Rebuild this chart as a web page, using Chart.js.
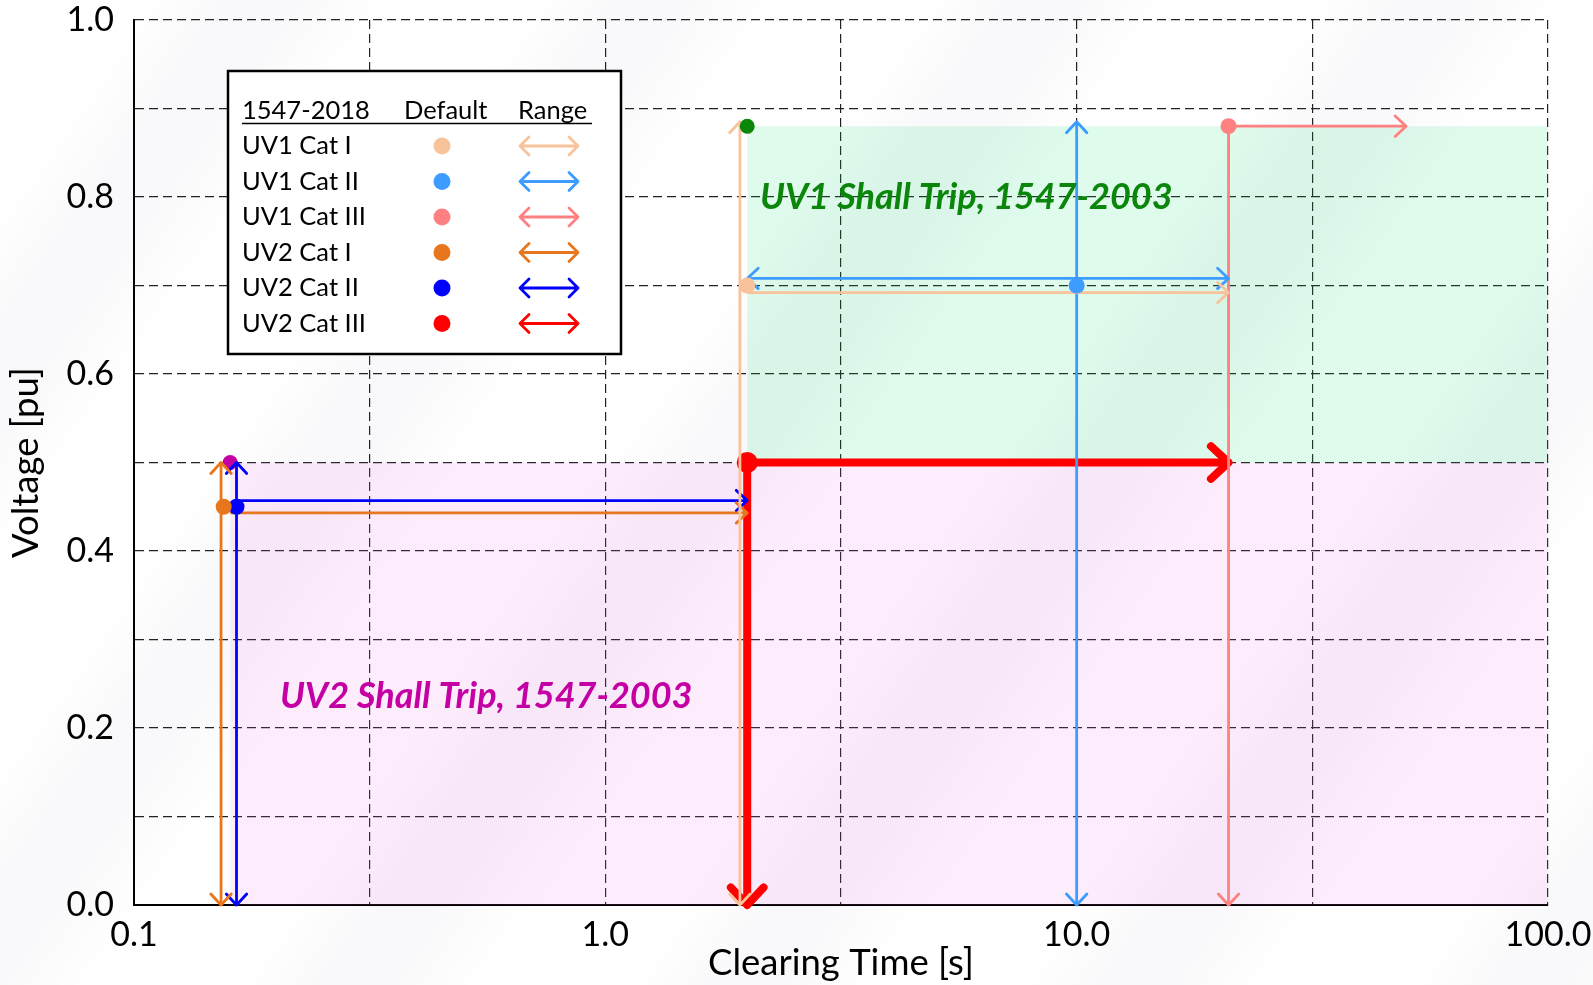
<!DOCTYPE html>
<html>
<head>
<meta charset="utf-8">
<script src="https://cdn.jsdelivr.net/npm/chart.js@4.4.1/dist/chart.umd.min.js"></script>
<style>
  html, body { margin: 0; padding: 0; }
  body {
    background: repeating-linear-gradient(125deg, #ffffff 0px, #ffffff 120px, #f9f9fb 190px, #f9f9fb 240px, #ffffff 320px);
  }
  canvas { display: block; }
</style>
</head>
<body>
<canvas id="chart" width="1593" height="985"></canvas>
<script>
// axis ticks
const xTicks = [0.1, 0.316, 1, 3.16, 10, 31.6, 100];
const xTickLabels = ["0.1", "", "1.0", "", "10.0", "", "100.0"];
const yTicks = [0, 0.1, 0.2, 0.3, 0.4, 0.5, 0.6, 0.7, 0.8, 0.9, 1.0];
const yTickLabels = ["0.0", "", "0.2", "", "0.4", "", "0.6", "", "0.8", "", "1.0"];

// 1547-2018 settings
const seriesNames = ["UV1 Cat I", "UV1 Cat II", "UV1 Cat III", "UV2 Cat I", "UV2 Cat II", "UV2 Cat III"];
const seriesColors = ["#f8c39a", "#3c9cff", "#ff8080", "#e8761c", "#0000ff", "#ff0000"];
const defaultTime = [2.0, 10.0, 21.0, 0.155, 0.165, 2.0];
const defaultVoltage = [0.70, 0.70, 0.88, 0.45, 0.45, 0.50];

// range arrows (horizontal = time range, vertical = voltage range)
const timeRangeFrom = [2.0, 2.0, 21.0, 0.16, 0.165, 2.0];
const timeRangeTo = [21.0, 21.0, 50.0, 2.0, 2.0, 21.0];
const timeRangeVoltage = [0.692, 0.708, 0.88, 0.443, 0.457, 0.50];
const timeRangeHeads = [["end"], ["start", "end"], ["end"], ["end"], ["end"], ["end"]];
const voltRangeFrom = [0.0, 0.0, 0.88, 0.0, 0.0, 0.50];
const voltRangeTo = [0.885, 0.885, 0.0, 0.50, 0.50, 0.0];
const voltRangeTime = [1.93, 10.0, 21.0, 0.153, 0.165, 2.0];
const voltRangeHeads = [["start", "end"], ["start", "end"], ["end"], ["start", "end"], ["start", "end"], ["end"]];

// 1547-2003 shall trip
const tripNames = ["UV1 Shall Trip, 1547-2003", "UV2 Shall Trip, 1547-2003"];
const tripTime = [2.0, 0.16];
const tripVoltage = [0.88, 0.50];
const tripFloor = [0.50, 0.0];
const tripColors = ["#0a860a", "#c400a4"];
const tripFills = ["rgba(0,225,110,0.13)", "rgba(240,110,230,0.12)"];
const tripLabelTime = [2.13, 0.204];
const tripLabelVoltage = [0.80, 0.236];
const xMax = 100;

const FONT = "Lato";

const datasets = [];

// shaded regions
tripNames.forEach((name, i) => {
  datasets.push({
    type: "line",
    data: [{ x: tripTime[i], y: tripVoltage[i] }, { x: xMax, y: tripVoltage[i] }],
    borderWidth: 0,
    pointRadius: 0,
    backgroundColor: tripFills[i],
    fill: { value: tripFloor[i] },
    order: 100,
  });
});

// range arrows
seriesNames.forEach((name, i) => {
  const thick = i === 5;
  const common = {
    type: "line",
    borderColor: seriesColors[i],
    borderWidth: thick ? 8 : 2.8,
    pointRadius: 0,
    fill: false,
    clip: false,
    headSize: thick ? 24 : 15,
    order: thick ? 60 : 30,
  };
  datasets.push(Object.assign({}, common, {
    data: [{ x: timeRangeFrom[i], y: timeRangeVoltage[i] }, { x: timeRangeTo[i], y: timeRangeVoltage[i] }],
    heads: timeRangeHeads[i],
  }));
  datasets.push(Object.assign({}, common, {
    data: [{ x: voltRangeTime[i], y: voltRangeFrom[i] }, { x: voltRangeTime[i], y: voltRangeTo[i] }],
    heads: voltRangeHeads[i],
  }));
});

// default points
seriesNames.forEach((name, i) => {
  datasets.push({
    type: "scatter",
    data: [{ x: defaultTime[i], y: defaultVoltage[i] }],
    pointRadius: i === 5 ? 10.5 : 8,
    pointBackgroundColor: seriesColors[i],
    pointBorderWidth: 0,
    clip: false,
    order: i === 5 ? 55 : 20,
  });
});

// 2003 points
tripNames.forEach((name, i) => {
  datasets.push({
    type: "scatter",
    data: [{ x: tripTime[i], y: tripVoltage[i] }],
    pointRadius: 7.5,
    pointBackgroundColor: tripColors[i],
    pointBorderWidth: 0,
    clip: false,
    order: i === 0 ? 10 : 40,
  });
});

const arrowHeads = {
  id: "arrowHeads",
  afterDatasetDraw(chart, args) {
    const ds = chart.data.datasets[args.index];
    if (!ds.heads) return;
    const pts = args.meta.data;
    const ctx = chart.ctx;
    const size = ds.headSize;
    ctx.save();
    ctx.strokeStyle = ds.borderColor;
    ctx.lineWidth = ds.borderWidth;
    ctx.lineCap = "round";
    ctx.lineJoin = "round";
    const draw = (tip, from) => {
      const a = Math.atan2(tip.y - from.y, tip.x - from.x);
      const s = Math.PI / 4.2;
      ctx.beginPath();
      ctx.moveTo(tip.x - size * Math.cos(a - s), tip.y - size * Math.sin(a - s));
      ctx.lineTo(tip.x, tip.y);
      ctx.lineTo(tip.x - size * Math.cos(a + s), tip.y - size * Math.sin(a + s));
      ctx.stroke();
    };
    if (ds.heads.includes("start")) draw(pts[0], pts[1]);
    if (ds.heads.includes("end")) draw(pts[pts.length - 1], pts[pts.length - 2]);
    ctx.restore();
  },
};

const tripLabels = {
  id: "tripLabels",
  afterDatasetsDraw(chart) {
    const ctx = chart.ctx;
    const xs = chart.scales.x, ys = chart.scales.y;
    ctx.save();
    ctx.font = "italic bold 36px " + FONT;
    ctx.textAlign = "left";
    ctx.textBaseline = "middle";
    tripNames.forEach((t, i) => {
      ctx.fillStyle = tripColors[i];
      ctx.fillText(t, xs.getPixelForValue(tripLabelTime[i]), ys.getPixelForValue(tripLabelVoltage[i]));
    });
    ctx.restore();
  },
};

const tableLegend = {
  id: "tableLegend",
  afterDraw(chart) {
    const ctx = chart.ctx;
    const left = 228, top = 71, w = 393, h = 283;
    ctx.save();
    ctx.fillStyle = "#fff";
    ctx.fillRect(left, top, w, h);
    ctx.strokeStyle = "#000";
    ctx.lineWidth = 2.5;
    ctx.strokeRect(left, top, w, h);

    ctx.fillStyle = "#000";
    ctx.font = "25.5px " + FONT;
    ctx.textBaseline = "alphabetic";
    ctx.textAlign = "left";
    ctx.fillText("1547-2018", 242, 119);
    ctx.fillText("Default", 404, 119);
    ctx.fillText("Range", 518, 119);
    ctx.lineWidth = 1.5;
    ctx.beginPath();
    ctx.moveTo(242, 123.5);
    ctx.lineTo(592, 123.5);
    ctx.stroke();

    seriesNames.forEach((name, i) => {
      const y = 146 + i * 35.5;
      ctx.fillStyle = "#000";
      ctx.textBaseline = "middle";
      ctx.fillText(name, 242, y);
      ctx.fillStyle = seriesColors[i];
      ctx.beginPath();
      ctx.arc(442, y, 8.5, 0, Math.PI * 2);
      ctx.fill();
      ctx.strokeStyle = seriesColors[i];
      ctx.lineWidth = 2.8;
      ctx.lineCap = "round";
      ctx.lineJoin = "round";
      ctx.beginPath();
      ctx.moveTo(520, y);
      ctx.lineTo(578, y);
      ctx.moveTo(529, y - 9);
      ctx.lineTo(520, y);
      ctx.lineTo(529, y + 9);
      ctx.moveTo(569, y - 9);
      ctx.lineTo(578, y);
      ctx.lineTo(569, y + 9);
      ctx.stroke();
    });
    ctx.restore();
  },
};

new Chart(document.getElementById("chart").getContext("2d"), {
  type: "line",
  data: { datasets: datasets },
  options: {
    responsive: false,
    animation: false,
    devicePixelRatio: 1,
    layout: { padding: { left: 0, top: 20, right: 45, bottom: 0 } },
    plugins: {
      legend: { display: false },
      tooltip: { enabled: false },
    },
    scales: {
      x: {
        type: "logarithmic",
        min: 0.1,
        max: 100,
        afterBuildTicks: (s) => { s.ticks = xTicks.map((v) => ({ value: v })); },
        afterFit: (s) => { s.height = 80; s.paddingLeft = 0; s.paddingRight = 0; },
        ticks: {
          autoSkip: false,
          maxRotation: 0,
          padding: 10,
          color: "#000",
          font: { family: FONT, size: 34 },
          callback: (v, i) => xTickLabels[i],
        },
        grid: { color: "#222", lineWidth: 1.2, drawTicks: false },
        border: { display: true, color: "#000", width: 2, dash: [9, 5] },
        title: {
          display: true,
          text: "Clearing Time [s]",
          color: "#000",
          font: { family: FONT, size: 36.5 },
          padding: { top: 0, bottom: 0 },
        },
      },
      y: {
        type: "linear",
        min: 0,
        max: 1,
        afterBuildTicks: (s) => { s.ticks = yTicks.map((v) => ({ value: v })); },
        afterFit: (s) => { s.width = 134; s.paddingTop = 0; s.paddingBottom = 0; },
        ticks: {
          autoSkip: false,
          padding: 20,
          color: "#000",
          font: { family: FONT, size: 34 },
          callback: (v, i) => yTickLabels[i],
        },
        grid: { color: "#222", lineWidth: 1.2, drawTicks: false },
        border: { display: true, color: "#000", width: 2, dash: [9, 5] },
        title: {
          display: true,
          text: "Voltage [pu]",
          color: "#000",
          font: { family: FONT, size: 36.5 },
          padding: { top: 4, bottom: 0 },
        },
      },
    },
  },
  plugins: [arrowHeads, tripLabels, tableLegend],
});
</script>
</body>
</html>
